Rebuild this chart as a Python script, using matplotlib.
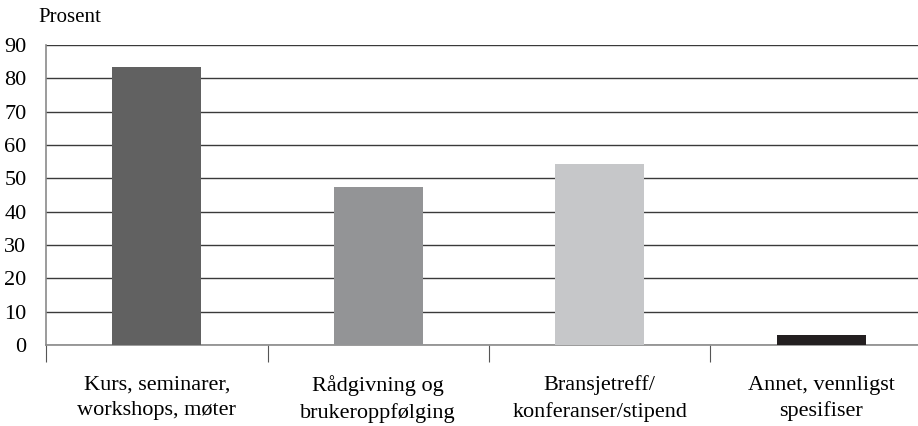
import matplotlib.pyplot as plt

categories = ["Kurs, seminarer,\nworkshops, møter",
              "Rådgivning og\nbrukeroppfølging",
              "Bransjetreff/\nkonferanser/stipend",
              "Annet, vennligst\nspesifiser"]
values = [83.3, 47.3, 54.2, 2.9]
colors = ["#616161", "#939496", "#c6c7c9", "#231f20"]
yticks = list(range(0, 91, 10))

plt.rcParams["font.family"] = ["Liberation Serif", "DejaVu Serif"]
plt.rcParams["font.size"] = 16

fig = plt.figure(figsize=(9.18, 4.26), dpi=100)
# axes deliberately runs past the right edge like the source picture
ax = fig.add_axes([46 / 918, 81 / 426, 886 / 918, 300 / 426])

x = range(len(categories))
ax.bar(x, values, width=0.4, color=colors, zorder=3)

ax.set_ylim(0, 90)
ax.set_xlim(-0.5, len(categories) - 0.5)
ax.set_yticks(yticks)
ax.yaxis.grid(True, color="#3a3a3a", linewidth=1.0, zorder=0)
ax.tick_params(axis="y", length=0, pad=14)

ax.set_xticks(x)
ax.set_xticklabels(categories, linespacing=1.45)
ax.set_xticks([i - 0.5 for i in range(len(categories) + 1)], minor=True)
ax.tick_params(axis="x", which="major", length=0, pad=22)
ax.tick_params(axis="x", which="minor", length=12, width=0.8, color="#555555")

for s in ["top", "right"]:
    ax.spines[s].set_visible(False)
ax.spines["left"].set_color("#8a8a8a")
ax.spines["bottom"].set_color("#8a8a8a")
ax.spines["left"].set_linewidth(1.2)
ax.spines["bottom"].set_linewidth(1.2)

fig.text(38 / 918, 1 - 17 / 426, "Prosent", va="center", ha="left", fontsize=15)

plt.savefig("out.png", dpi=100)
plt.close()
